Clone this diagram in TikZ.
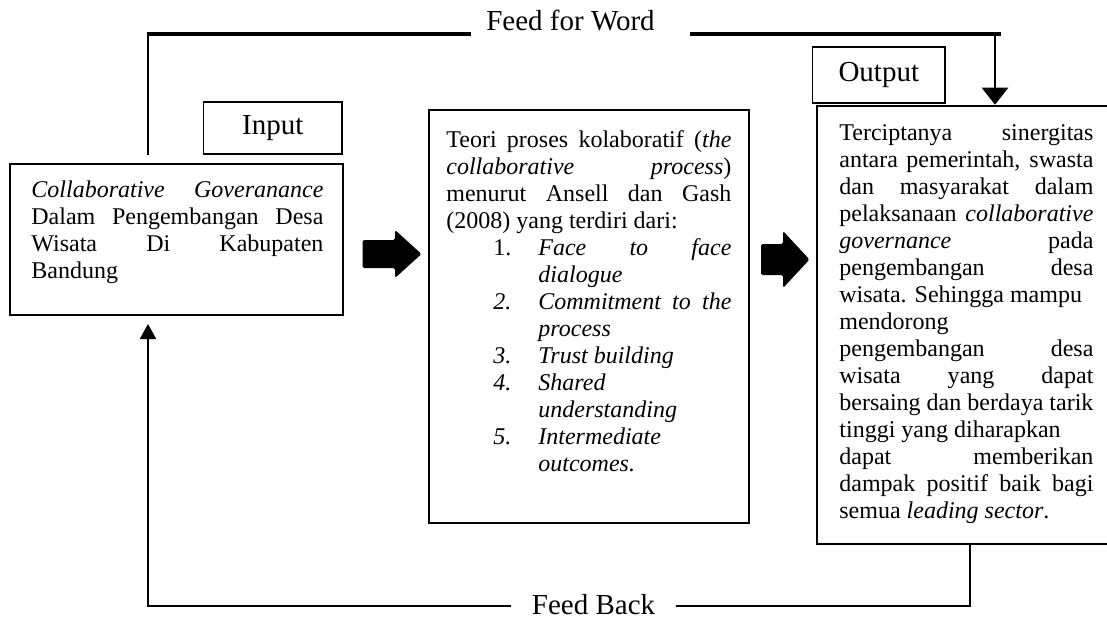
\documentclass[tikz,border=0pt]{standalone}
\usepackage{fontspec}
\setmainfont{Liberation Serif}
\usetikzlibrary{arrows.meta}
\hyphenpenalty=10000
\exhyphenpenalty=10000
\tolerance=10000
\tikzset{
  box/.style={draw=black, line width=0.75pt, inner sep=0pt},
  lbl/.style={draw=black, line width=0.6pt, inner sep=0pt, font=\fontsize{14.5pt}{17pt}\selectfont},
  txt/.style={anchor=north west, inner sep=0pt, align=justify, font=\fontsize{12pt}{13.5pt}\selectfont},
  head/.style={inner sep=0pt, font=\fontsize{14.5pt}{17pt}\selectfont},
  heavy/.style={line width=2pt},
  light/.style={line width=0.75pt},
  fbline/.style={line width=1pt},
  blockarrow/.style={fill=black, rounded corners=0.8pt},
}
\newcommand{\fl}{\rule{0pt}{9pt}}
\newcommand{\lstitem}[2]{{\leftskip=23.5pt\hangindent=22.5pt\hangafter=1\noindent\makebox[22.5pt][l]{#1}#2\par}}
\begin{document}
\begin{tikzpicture}[x=0.5pt,y=-0.5pt]
\useasboundingbox (0,0) rectangle (1107,620);

% boxes
\node[lbl, minimum width=69.2pt, minimum height=26pt] (inlabel) at (272.8,128) {Input};
\node[box, minimum width=166.5pt, minimum height=75.5pt] (leftbox) at (176.5,239.5) {};
\node[box, line width=1pt, minimum width=160pt, minimum height=206.5pt] (mid) at (589,316.5) {};
\node[lbl, minimum width=66.2pt, minimum height=28pt] (outlabel) at (878.8,75) {Output};
\node[box, line width=1.25pt, minimum width=149pt, minimum height=219pt] (out) at (966,325) {};

% texts
\node[txt, text width=146pt] (lefttext) at (31,179) {\fl\textit{Collaborative Goveranance}\linebreak
Dalam Pengembangan Desa\linebreak
Wisata Di Kabupaten\linebreak
Bandung};

\node[txt, text width=142.5pt] (midtext) at (446,129) {\fl Teori proses kolaboratif (\textit{the}\linebreak
\textit{collaborative process})\linebreak
menurut Ansell dan Gash\linebreak
(2008) yang terdiri dari:\par
\lstitem{1.}{\textit{Face to face}\linebreak \textit{dialogue}}
\lstitem{\textit{2.}}{\textit{Commitment to the}\linebreak \textit{process}}
\lstitem{\textit{3.}}{\textit{Trust building}}
\lstitem{\textit{4.}}{\textit{Shared}\newline \textit{understanding}}
\lstitem{\textit{5.}}{\textit{Intermediate}\newline \textit{outcomes.}}};

\node[txt, text width=127pt] (outtext) at (839,122) {\fl Terciptanya sinergitas\linebreak
antara pemerintah, swasta\linebreak
dan masyarakat dalam\linebreak
pelaksanaan \textit{collaborative}\linebreak
\textit{governance} pada\linebreak
pengembangan desa\linebreak
wisata. Sehingga mampu\newline
mendorong\newline
pengembangan desa\linebreak
wisata yang dapat\linebreak
bersaing dan berdaya tarik\linebreak
tinggi yang diharapkan\newline
dapat memberikan\linebreak
dampak positif baik bagi\linebreak
semua \textit{leading sector}.};

% block arrows
\fill[blockarrow] (362.5,240) -- (395,240) -- (395,230) -- (421.5,254) -- (395,278) -- (395,268) -- (362.5,268) -- cycle;
\fill[blockarrow] (761,244) -- (783,244) -- (783,231) -- (809.5,259.5) -- (783,288) -- (783,275) -- (761,275) -- cycle;

% Feed for Word
\coordinate (fwB) at (148,34);
\coordinate (fwC) at (471,34);
\coordinate (fwD) at (690,34);
\coordinate (fwE) at (1001,34);
\coordinate (fwF) at (995,34);
\draw[light] (inlabel.south -| fwB) -- (fwB);
\draw[heavy] ([xshift=-0.35pt]fwB) -- (fwC);
\node[head, anchor=base] (fw) at (570.5,31) {Feed for Word};
\draw[heavy] (fwD) -- (fwE);
\draw[line width=1.25pt, -{Triangle[width=13pt,length=8.5pt]}] (fwF) -- (fwF |- out.north);

% Feed Back
\coordinate (fbR) at (970,606);
\coordinate (fbM) at (676,606);
\coordinate (fbL) at (511,606);
\coordinate (fbC) at (148,606);
\coordinate (fbT) at (148,324);
\node[head, anchor=base] (fb) at (593.5,614) {Feed Back};
\draw[fbline] (out.south -| fbR) -- (fbR) -- (fbM);
\draw[fbline, -{Triangle[width=8pt,length=7.5pt]}] (fbL) -- (fbC) -- (fbT);
\end{tikzpicture}
\end{document}
